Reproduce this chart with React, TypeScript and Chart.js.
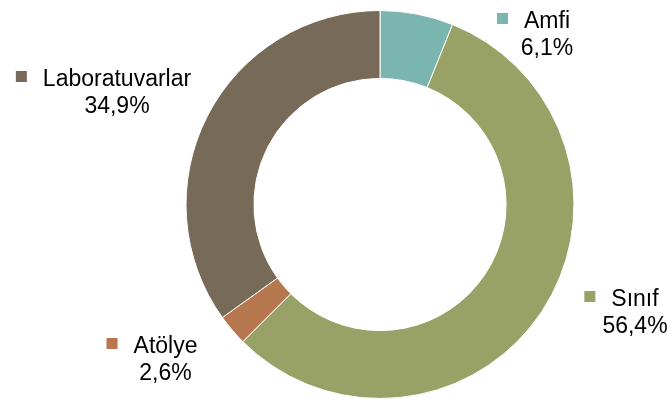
import React, { useEffect, useRef } from "react";
import { Chart, registerables } from "chart.js";

Chart.register(...registerables);

const categories = ["Amfi", "Sınıf", "Atölye", "Laboratuvarlar"];
const shares = [6.1, 56.4, 2.6, 34.9];
const sliceColors = ["#7AB5B0", "#98A267", "#B77850", "#786A59"];
// label anchor (center of name text, first baseline) relative to doughnut center
const labelOffsets = [
  [167, -176.5],
  [255, 101.5],
  [-214.5, 148.5],
  [-263, -118.5],
];

const fmt = (v: number) => v.toFixed(1).replace(".", ",") + "%";

const labelPlugin = {
  id: "sliceLabels",
  afterDraw(chart: any) {
    const ctx = chart.ctx;
    const meta = chart.getDatasetMeta(0);
    const font = "23px 'Liberation Sans', Arial, sans-serif";
    ctx.save();
    ctx.font = font;
    ctx.textBaseline = "alphabetic";
    meta.data.forEach((arc: any, i: number) => {
      const cx = arc.x + labelOffsets[i][0];
      const by = arc.y + labelOffsets[i][1];
      const name = categories[i];
      const w = ctx.measureText(name).width;
      ctx.fillStyle = "#000";
      ctx.textAlign = "center";
      ctx.fillText(name, cx, by);
      ctx.fillText(fmt(shares[i]), cx, by + 26.5);
      ctx.fillStyle = sliceColors[i];
      ctx.fillRect(cx - w / 2 - 27, by - 15, 11, 11);
    });
    ctx.restore();
  },
};

export default function App() {
  const ref = useRef<HTMLCanvasElement>(null);
  useEffect(() => {
    document.body.style.margin = "0";
    const chart = new Chart(ref.current!, {
      type: "doughnut",
      data: {
        labels: categories,
        datasets: [
          {
            data: shares,
            backgroundColor: sliceColors,
            borderColor: "#ffffff",
            borderWidth: 1,
          },
        ],
      },
      options: {
        responsive: false,
        animation: false,
        cutout: "65%",
        layout: { padding: { left: 185.5, right: 93.5, top: 10, bottom: 4 } },
        plugins: { legend: { display: false }, tooltip: { enabled: false } },
      },
      plugins: [labelPlugin],
    });
    return () => chart.destroy();
  }, []);
  return <canvas ref={ref} width={668} height={403} style={{ display: "block" }} />;
}
